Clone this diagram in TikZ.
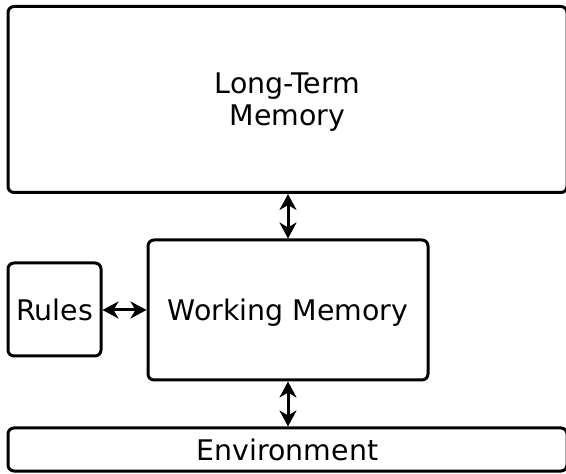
\documentclass[tikz,border=0pt]{standalone}
\usepackage{fontspec}
\setmainfont{DejaVu Sans}
\usetikzlibrary{arrows.meta}

\tikzset{
  box/.style={draw, line width=1.5pt, rounded corners=3pt, align=center,
    font=\fontsize{14.2}{16}\selectfont, inner sep=0pt, text depth=0pt},
  link/.style={{Stealth[length=8pt,width=8.5pt,inset=2.5pt]}-{Stealth[length=8pt,width=8.5pt,inset=2.5pt]}, line width=1.5pt}
}

\begin{document}
\begin{tikzpicture}[x=0.5pt,y=-0.5pt]
\useasboundingbox (0,0) rectangle (566,474);

\node[box, minimum width=279.5pt, minimum height=93pt] (ltm) at (287.5,99.5) {Long-Term\\Memory};
\node[box, minimum width=140pt, minimum height=70pt] (wm) at (288,310) {Working Memory};
\node[box, minimum width=46.5pt, minimum height=46.5pt] (rules) at (54.5,309.5) {Rules};
\node[box, minimum width=279.5pt, minimum height=21.5pt] (env) at (287.5,449.5) {Environment};

\draw[link] (ltm.south -| wm.north) -- (wm.north);
\draw[link] (rules.east |- wm.west) -- (wm.west);
\draw[link] (wm.south) -- (env.north -| wm.south);
\end{tikzpicture}
\end{document}
